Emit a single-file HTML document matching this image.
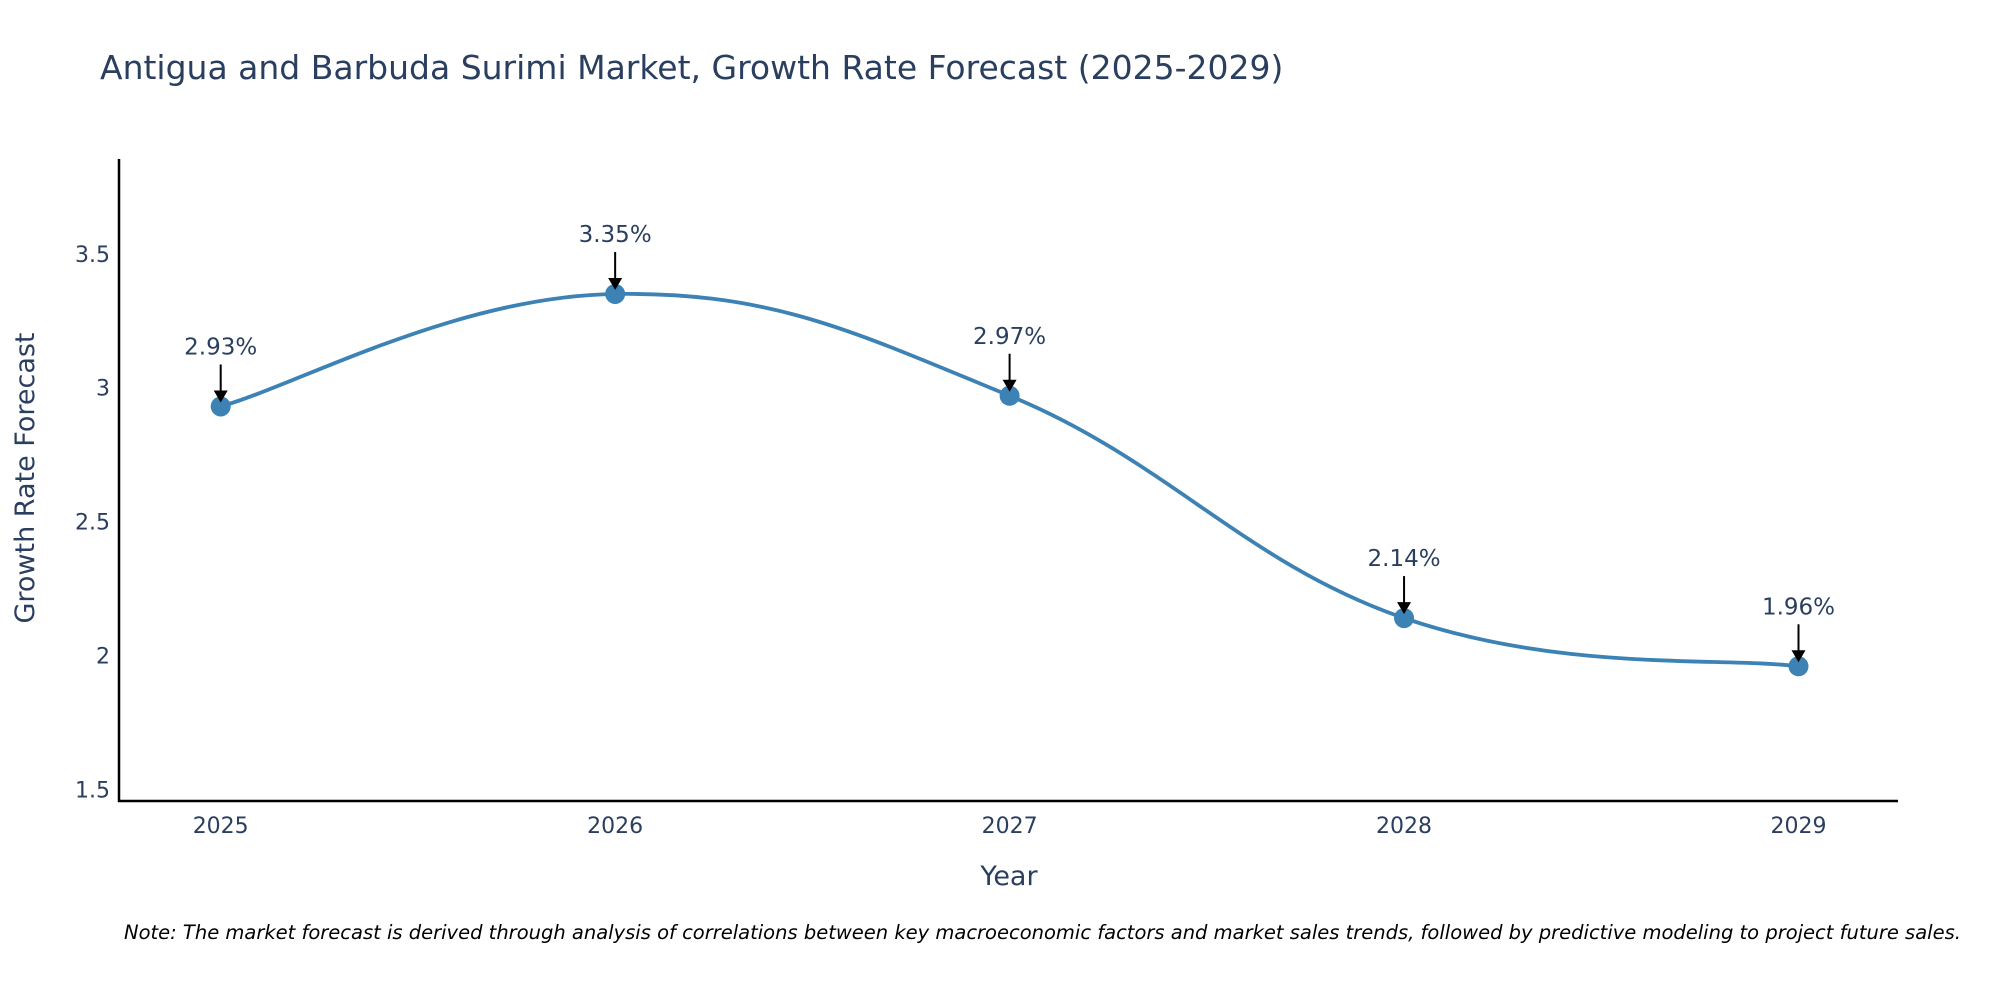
<!DOCTYPE html>
<html><head><meta charset="utf-8"><style>
body{margin:0;background:#fff;overflow:hidden;}
svg text{font-family:"DejaVu Sans","Liberation Sans",sans-serif;}
</style></head><body>
<svg id="chart" width="2000" height="1000" viewBox="0 0 2000 1000" xmlns="http://www.w3.org/2000/svg">
<text x="100" y="79" font-size="33" fill="#2a3f5f">Antigua and Barbuda Surimi Market, Growth Rate Forecast (2025-2029)</text>
<g id="yticks"></g>
<g id="xticks"></g>
<line x1="119" y1="159" x2="119" y2="802" stroke="#000" stroke-width="2.5"/>
<line x1="118" y1="801" x2="1898" y2="801" stroke="#000" stroke-width="2.5"/>
<text transform="translate(34,478) rotate(-90)" text-anchor="middle" font-size="27" fill="#2a3f5f">Growth Rate Forecast</text>
<text x="1009" y="885" text-anchor="middle" font-size="27" fill="#2a3f5f">Year</text>
<g id="series"></g>
<g id="annots"></g>
<text x="124" y="939" font-size="19.5" font-style="italic" fill="#000">Note: The market forecast is derived through analysis of correlations between key macroeconomic factors and market sales trends, followed by predictive modeling to project future sales.</text>
</svg>
<script>
const years = [2025, 2026, 2027, 2028, 2029];
const values = [2.93, 3.35, 2.97, 2.14, 1.96];
const valueLabels = ["2.93%", "3.35%", "2.97%", "2.14%", "1.96%"];
const yTicks = [1.5, 2, 2.5, 3, 3.5];
const yTickLabels = ["1.5", "2", "2.5", "3", "3.5"];

const NS = "http://www.w3.org/2000/svg";
function xs(v){ return 220.7 + (v - 2025) * (1798.5 - 220.7) / 4; }
function ys(v){ return 789.5 - (v - 1.5) * 267.85; }
function mk(tag, attrs, parent){ const e = document.createElementNS(NS, tag); for (const k in attrs) e.setAttribute(k, attrs[k]); parent.appendChild(e); return e; }

const yg = document.getElementById('yticks');
yTicks.forEach((t, i) => {
  const el = mk('text', {x: 110, y: ys(t) + 8, 'text-anchor': 'end', 'font-size': 22, fill: '#2a3f5f'}, yg);
  
  
  el.textContent = yTickLabels[i];
});
const xg = document.getElementById('xticks');
years.forEach(y => {
  const el = mk('text', {x: xs(y), y: 833, 'text-anchor': 'middle', 'font-size': 22, fill: '#2a3f5f'}, xg);
  
  
  el.textContent = String(y);
});

const pts = years.map((y, i) => [xs(y), ys(values[i])]);
let d = `M${pts[0][0]},${pts[0][1]}`;
const tns = 0.2;
for (let i = 0; i < pts.length - 1; i++) {
  const p0 = pts[Math.max(0, i - 1)], p1 = pts[i], p2 = pts[i + 1], p3 = pts[Math.min(pts.length - 1, i + 2)];
  const c1 = [p1[0] + (p2[0] - p0[0]) * tns, p1[1] + (p2[1] - p0[1]) * tns];
  const c2 = [p2[0] - (p3[0] - p1[0]) * tns, p2[1] - (p3[1] - p1[1]) * tns];
  d += ` C${c1[0]},${c1[1]} ${c2[0]},${c2[1]} ${p2[0]},${p2[1]}`;
}
const sg = document.getElementById('series');
const line = mk('path', {d: d, fill: 'none', stroke: '#3c82b4', 'stroke-width': 3.8}, sg);


pts.forEach(p => {
  const c = mk('circle', {cx: p[0], cy: p[1], r: 10, fill: '#3c82b4'}, sg);
  
  
});

const ag = document.getElementById('annots');
pts.forEach((p, i) => {
  const g = mk('g', {}, ag);
  
  
  mk('line', {x1: p[0], y1: p[1] - 42, x2: p[0], y2: p[1] - 14, stroke: '#000', 'stroke-width': 2}, g);
  mk('polygon', {points: `${p[0]-7},${p[1]-16} ${p[0]+7},${p[1]-16} ${p[0]},${p[1]-4}`, fill: '#000'}, g);
  const t = mk('text', {x: p[0], y: p[1] - 52, 'text-anchor': 'middle', 'font-size': 23, fill: '#2a3f5f'}, g);
  t.textContent = valueLabels[i];
});
</script>
</body></html>
